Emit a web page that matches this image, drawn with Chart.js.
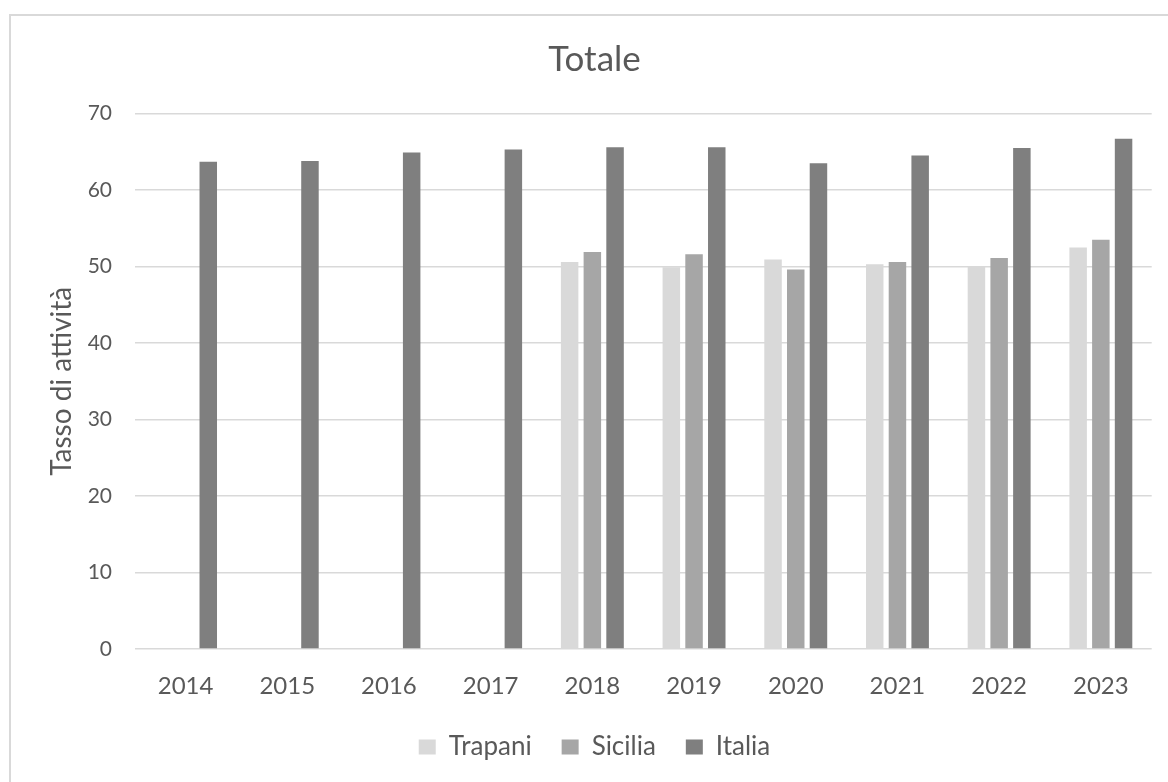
<!DOCTYPE html>
<html lang="it">
<head>
<meta charset="utf-8">
<title>Totale - Tasso di attività</title>
<script src="https://cdn.jsdelivr.net/npm/chart.js@4.4.1/dist/chart.umd.min.js"></script>
<style>
    html, body {
        margin: 0;
        padding: 0;
        overflow: hidden;
        background: #ffffff;
    }
    #frame {
        position: absolute;
        left: 9px;
        top: 14px;
        width: 1200px;
        height: 800px;
        border: 2px solid #d9d9d9;
        box-sizing: border-box;
    }
    #chartBox {
        position: absolute;
        left: 0;
        top: 0;
    }
</style>
</head>
<body>
<div id="frame"></div>
<canvas id="chartBox" width="1189" height="770"></canvas>
<script>
// Anni e serie del grafico
const years = ['2014', '2015', '2016', '2017', '2018', '2019', '2020', '2021', '2022', '2023'];
const trapani = [null, null, null, null, 50.6, 49.9, 50.9, 50.3, 50.0, 52.5];
const sicilia = [null, null, null, null, 51.9, 51.6, 49.6, 50.6, 51.1, 53.5];
const italia = [63.7, 63.8, 64.9, 65.3, 65.6, 65.6, 63.5, 64.5, 65.5, 66.7];

const seriesNames = ['Trapani', 'Sicilia', 'Italia'];
const seriesColors = ['#d9d9d9', '#a6a6a6', '#7f7f7f'];

const yMin = 0;
const yMax = 70;
const yStep = 10;

const textColor = '#595959';
const gridColor = '#d9d9d9';
const fontFamily = 'Lato, "Open Sans", sans-serif';

document.addEventListener('DOMContentLoaded', function() {
    initializeChart();
});

function initializeChart() {
    const ctx = document.getElementById('chartBox').getContext('2d');
    const seriesData = [trapani, sicilia, italia];

    new Chart(ctx, {
        type: 'bar',
        data: {
            labels: years,
            datasets: seriesNames.map((name, i) => ({
                label: name,
                data: seriesData[i],
                backgroundColor: seriesColors[i],
                borderWidth: 0,
                categoryPercentage: 0.67,
                barPercentage: 0.77
            }))
        },
        options: {
            responsive: false,
            animation: false,
            devicePixelRatio: 1,
            layout: {
                // same padding on both sides keeps title and legend centred on the frame
                padding: { left: 37.3, right: 37.3, top: 0, bottom: 0 }
            },
            plugins: {
                title: {
                    display: true,
                    text: 'Totale',
                    color: textColor,
                    font: { family: fontFamily, size: 35, weight: 'normal' },
                    padding: { top: 39, bottom: 32.5 }
                },
                legend: {
                    position: 'bottom',
                    labels: {
                        color: textColor,
                        font: { family: fontFamily, size: 26 },
                        boxWidth: 17,
                        boxHeight: 15,
                        padding: 30
                    }
                },
                tooltip: { enabled: false }
            },
            scales: {
                x: {
                    grid: { display: false, drawTicks: false },
                    border: { display: false },
                    ticks: {
                        color: textColor,
                        font: { family: fontFamily, size: 24 },
                        padding: 23,
                        maxRotation: 0
                    },
                    // tall enough that the year labels are not clipped
                    afterFit: function(scale) {
                        scale.height = 55;
                    }
                },
                y: {
                    min: yMin,
                    max: yMax,
                    grid: {
                        color: gridColor,
                        lineWidth: 1.5,
                        drawTicks: false
                    },
                    border: { display: false },
                    ticks: {
                        stepSize: yStep,
                        color: textColor,
                        font: { family: fontFamily, size: 21 },
                        padding: 22.7
                    },
                    title: {
                        display: true,
                        text: 'Tasso di attività',
                        color: textColor,
                        font: { family: fontFamily, size: 28 },
                        padding: { top: 8, bottom: 0 }
                    },
                    afterFit: function(scale) {
                        scale.width = 97.4;
                    }
                }
            }
        }
    });
}
</script>
</body>
</html>
